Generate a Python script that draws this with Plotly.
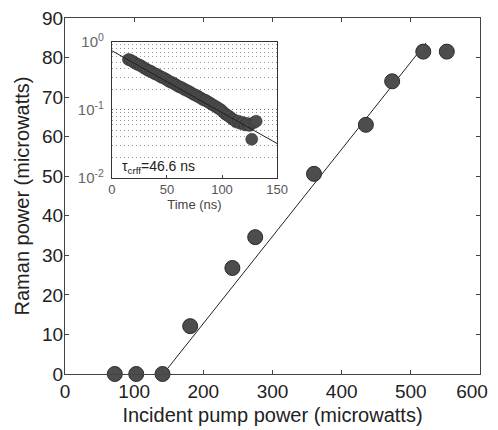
import plotly.graph_objects as go

# ---- main data ----
pump_power = [72, 103, 141, 181, 242, 275, 360, 435, 473, 518, 552]
raman_power = [0, 0, 0, 12.1, 26.8, 34.6, 50.6, 63, 74, 81.5, 81.5]
fit_pump = [142, 522]
fit_raman = [0, 83.7]

# ---- inset data ----
time_ns = [15, 17, 19, 21, 23, 25, 27, 29, 31, 33, 35, 37, 39, 41, 43, 45, 47, 49,
           51, 53, 55, 57, 59, 61, 63, 65, 67, 69, 71, 73, 75, 77, 79, 81, 83, 85,
           87, 89, 91, 93, 95, 97, 99, 101, 103, 105, 107, 109, 111, 113, 115, 117,
           119, 121, 123, 125, 127, 129, 131]
signal = [0.55, 0.537, 0.513, 0.49, 0.468, 0.457, 0.437, 0.417, 0.398, 0.38, 0.372,
          0.355, 0.339, 0.331, 0.316, 0.302, 0.295, 0.282, 0.269, 0.257, 0.251, 0.24,
          0.229, 0.219, 0.214, 0.204, 0.195, 0.19, 0.182, 0.174, 0.166, 0.162, 0.155,
          0.148, 0.141, 0.138, 0.132, 0.126, 0.12, 0.115, 0.11, 0.105, 0.1, 0.093,
          0.087, 0.083, 0.079, 0.074, 0.071, 0.066, 0.068, 0.063, 0.065, 0.06, 0.063,
          0.059, 0.037, 0.065, 0.068]
fit_time = [0, 150]
fit_signal = [0.74, 0.032]

x_ticks = [0, 100, 200, 300, 400, 500, 600]
x_tick_labels = ["0", "100", "200", "300", "400", "500", "600\u00a0\u00a0\u00a0"]
y_ticks = [0, 10, 20, 30, 40, 50, 60, 70, 80, 90]
inset_x_ticks = [0, 50, 100, 150]
inset_y_ticks = [0.01, 0.1, 1]
inset_y_labels = ["10<sup>-2</sup>", "10<sup>-1</sup>", "10<sup>0</sup>"]
minor_vals = [m * d for d in (0.01, 0.1) for m in range(2, 10)]

FONT = "Liberation Sans, Arial, sans-serif"
DARK = "#222222"
fill = "#4d4d4d"

fig = go.Figure()

fig.add_trace(go.Scatter(x=fit_pump, y=fit_raman, mode="lines",
                         line=dict(color="#222", width=1), showlegend=False))
fig.add_trace(go.Scatter(x=pump_power, y=raman_power, mode="markers",
                         marker=dict(size=15, color=fill, line=dict(color="#2a2a2a", width=1)),
                         showlegend=False, cliponaxis=False))

fig.add_trace(go.Scatter(x=time_ns, y=signal, mode="markers", xaxis="x2", yaxis="y2",
                         marker=dict(size=12, color=fill, line=dict(color="#2a2a2a", width=0.5)),
                         showlegend=False))
fig.add_trace(go.Scatter(x=fit_time, y=fit_signal, mode="lines", xaxis="x2", yaxis="y2",
                         line=dict(color="#222", width=1), showlegend=False))

fig.update_layout(
    width=490, height=420,
    margin=dict(l=57, r=18, t=10, b=54),
    paper_bgcolor="white", plot_bgcolor="white",
    font=dict(family=FONT, color=DARK),
    xaxis=dict(range=[0, 600], tickvals=x_ticks, ticktext=x_tick_labels,
               ticks="inside", ticklen=4,
               showline=True, linecolor="#444", linewidth=1, mirror="ticks",
               showgrid=False, zeroline=False, tickfont=dict(size=19, color=DARK),
               automargin=False, ticklabeloverflow="allow", ticklabelstandoff=0,
               title=dict(text="Incident pump power (microwatts)", font=dict(size=20, color=DARK),
                          standoff=7)),
    yaxis=dict(range=[0, 90], tickvals=y_ticks, ticks="inside", ticklen=4,
               showline=True, linecolor="#444", linewidth=1, mirror="ticks",
               showgrid=False, zeroline=False, tickfont=dict(size=19, color=DARK),
               automargin=False, ticklabelstandoff=-3, ticklabeloverflow="allow",
               title=dict(text="Raman power (microwatts)", font=dict(size=20, color=DARK),
                          standoff=7)),
    xaxis2=dict(domain=[0.113, 0.511], anchor="y2", range=[0, 150], tickvals=inset_x_ticks,
                ticks="inside", ticklen=3, showline=True, linecolor="#333", mirror=True,
                showgrid=False, zeroline=False, tickfont=dict(size=13, color="#555"),
                automargin=False, ticklabeloverflow="allow",
                title=dict(text="Time (ns)", font=dict(size=13, color="#444"), standoff=2)),
    yaxis2=dict(domain=[0.551, 0.933], anchor="x2", type="log", range=[-2, 0],
                tickvals=inset_y_ticks, ticktext=inset_y_labels, ticks="",
                showline=True, linecolor="#333", mirror=True, automargin=False,
                ticklabeloverflow="allow", ticklabelstandoff=4,
                showgrid=True, gridcolor="#777", griddash="1px,3px", gridwidth=1,
                minor=dict(tickvals=minor_vals, showgrid=True, gridcolor="#999",
                           griddash="1px,3px", gridwidth=1, ticks=""),
                zeroline=False, tickfont=dict(size=15, color="#666")),
    annotations=[dict(x=7, y=-1.84, xref="x2", yref="y2", xanchor="left", yanchor="middle",
                      text="τ<sub>crff</sub>=46.6 ns", showarrow=False,
                      font=dict(size=14, color="#222", family=FONT))],
)

fig.write_html("out.html")
